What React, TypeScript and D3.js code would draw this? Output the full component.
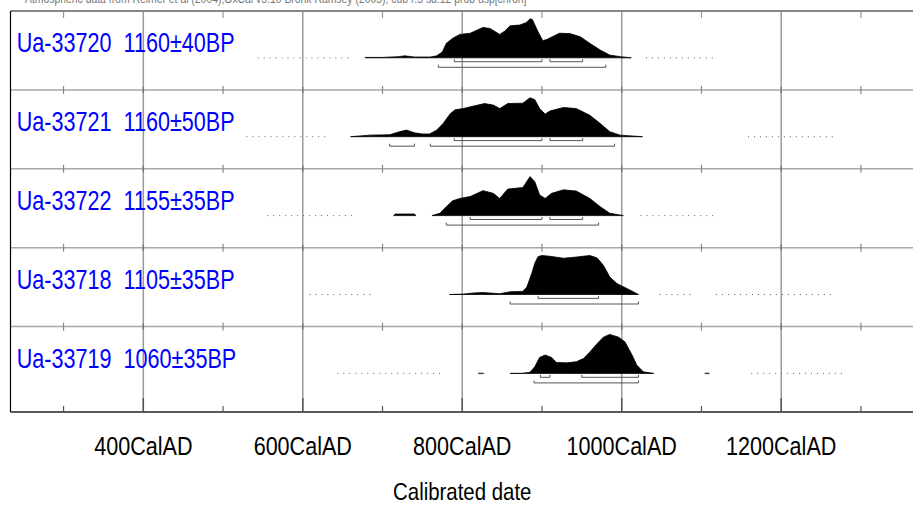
import React from 'react';
import * as d3 from 'd3';

const W = 913;
const H = 505;

const headerText = 'Atmospheric data from Reimer et al (2004);OxCal v3.10 Bronk Ramsey (2005); cub r:5 sd:12 prob usp[chron]';

const sampleLabels = [
  'Ua-33720  1160±40BP',
  'Ua-33721  1160±50BP',
  'Ua-33722  1155±35BP',
  'Ua-33718  1105±35BP',
  'Ua-33719  1060±35BP',
];

const majorTicks = [400, 600, 800, 1000, 1200];
const minorTicks = [300, 500, 700, 900, 1100, 1300];
const xTitle = 'Calibrated date';

// probability distributions (year, relative probability); null = gap
const years1 = [678, 700, 720, 728, 740, 760, 768, 775, 780, 788, 797, 810, 826, 835, 847, 853, 860, 872, 880, 885, 888, 895, 901, 906, 922, 935, 948, 960, 973, 985, 998, 1012];
const dens1 = [0.01, 0.01, 0.03, 0.05, 0.02, 0.02, 0.05, 0.15, 0.37, 0.5, 0.6, 0.63, 0.78, 0.75, 0.6, 0.68, 0.82, 0.84, 0.9, 1.0, 0.98, 0.67, 0.44, 0.47, 0.63, 0.62, 0.54, 0.37, 0.2, 0.07, 0.03, 0.0];

const years2 = [660, 684, 709, 720, 730, 740, 750, 759, 768, 776, 785, 791, 801, 813, 828, 839, 847, 857, 876, 885, 891, 897, 904, 910, 927, 943, 960, 973, 985, 998, 1026];
const dens2 = [0.0, 0.04, 0.05, 0.12, 0.17, 0.1, 0.07, 0.07, 0.17, 0.34, 0.59, 0.69, 0.72, 0.78, 0.85, 0.81, 0.72, 0.85, 0.86, 1.0, 0.95, 0.72, 0.58, 0.66, 0.75, 0.72, 0.55, 0.34, 0.13, 0.04, 0.0];

const years3 = [714, 716, 740, 742, 752, 762, 772, 780, 788, 797, 810, 826, 839, 847, 857, 876, 885, 891, 897, 904, 912, 927, 943, 960, 973, 985, 1002];
const dens3 = [0.0, 0.04, 0.04, 0.0, null, 0.0, 0.06, 0.23, 0.38, 0.44, 0.49, 0.64, 0.57, 0.44, 0.68, 0.72, 1.0, 0.87, 0.53, 0.44, 0.57, 0.66, 0.63, 0.44, 0.23, 0.06, 0.0];

const years4 = [784, 801, 815, 826, 840, 847, 860, 876, 881, 887, 891, 895, 900, 910, 927, 943, 960, 969, 977, 985, 994, 1007, 1021];
const dens4 = [0.0, 0.01, 0.04, 0.05, 0.03, 0.02, 0.07, 0.08, 0.19, 0.53, 0.8, 0.97, 1.0, 0.98, 0.93, 0.96, 1.0, 0.94, 0.75, 0.45, 0.28, 0.15, 0.0];

const years5 = [860, 875, 885, 891, 897, 904, 912, 918, 931, 943, 952, 960, 969, 977, 985, 996, 1004, 1012, 1019, 1027, 1040];
const dens5 = [0.0, 0.0, 0.03, 0.17, 0.41, 0.47, 0.41, 0.28, 0.27, 0.3, 0.38, 0.55, 0.76, 0.93, 1.0, 0.93, 0.81, 0.51, 0.21, 0.04, 0.0];

// 68.2% and 95.4% ranges
const ranges68 = [
  [[790, 900], [910, 951]],
  [[790, 900], [910, 951]],
  [[810, 900], [910, 951]],
  [[895, 971]],
  [[898, 910], [950, 1021]],
];
const ranges95 = [
  [[770, 980]],
  [[709, 740], [760, 991]],
  [[780, 971]],
  [[860, 1021]],
  [[890, 1021]],
];

// dotted ranges and short dashes on each baseline
const dotRanges = [
  [[544, 662], [1031, 1120]],
  [[530, 634], [1159, 1264]],
  [[556, 666], [1024, 1114]],
  [[609, 687], [1048, 1089], [1119, 1265]],
  [[644, 778], [1163, 1277]],
];
const dashRanges = [[], [], [], [], [[820, 827], [1104, 1110]]];

const yearsList = [years1, years2, years3, years4, years5];
const densList = [dens1, dens2, dens3, dens4, dens5];

export default function App() {
  const x = d3.scaleLinear().domain([400, 1200]).range([143.3, 781.2]);
  const left = 10.5;
  const right = 920;
  const top = 11;
  const bottom = 412;
  const rowStep = 78.9;
  const rowTop = (i: number) => top + i * rowStep;
  const baseOff = 46.8;
  const peakH = 39;
  const gridC = '#9a9a9a';

  return (
    <svg width={W} height={H} style={{ position: 'absolute', left: 0, top: 0, background: '#fff' }}
      fontFamily="'Liberation Sans', Arial, sans-serif">
      <rect x={0} y={0} width={W} height={H} fill="#fff" />
      {/* header (cut off at the top edge, as in the source) */}
      <text x={25} y={2.5} fontSize={13} fill="#777" transform="translate(25,0) scale(0.8,1) translate(-25,0)">{headerText}</text>

      {/* vertical gridlines */}
      {majorTicks.map((t) => (
        <line key={'g' + t} x1={x(t)} x2={x(t)} y1={top} y2={bottom} stroke={gridC} strokeWidth={1.5} />
      ))}
      {/* row separators */}
      {[1, 2, 3, 4].map((i) => (
        <line key={'s' + i} x1={left} x2={right} y1={rowTop(i)} y2={rowTop(i)} stroke="#a8a8a8" strokeWidth={1.5} />
      ))}
      {/* ticks at separators */}
      {[1, 2, 3, 4].map((i) => (
        <g key={'ts' + i}>
          {minorTicks.map((t) => (
            <line key={t} x1={x(t)} x2={x(t)} y1={rowTop(i) - 4} y2={rowTop(i) + 4} stroke="#888" strokeWidth={1.2} />
          ))}
          {majorTicks.map((t) => (
            <line key={t} x1={x(t)} x2={x(t)} y1={rowTop(i) - 3} y2={rowTop(i) + 3} stroke="#777" strokeWidth={1.5} />
          ))}
        </g>
      ))}
      {/* top ticks */}
      {minorTicks.map((t) => (
        <line key={'tt' + t} x1={x(t)} x2={x(t)} y1={top} y2={top + 7} stroke="#999" strokeWidth={1.2} />
      ))}
      {/* top border */}
      <line x1={left} x2={right} y1={top} y2={top} stroke="#888" strokeWidth={2} />
      {/* left border */}
      <line x1={left} x2={left} y1={top} y2={bottom} stroke="#000" strokeWidth={1.2} />

      {/* rows */}
      {sampleLabels.map((lab, i) => {
        const base = rowTop(i) + baseOff;
        const y = d3.scaleLinear().domain([0, 1]).range([base, base - peakH]);
        const pts = yearsList[i].map((yr, k) => ({ yr, v: densList[i][k] }));
        const area = d3.area<{ yr: number; v: number | null }>()
          .defined((d) => d.v != null)
          .x((d) => x(d.yr))
          .y0(base)
          .y1((d) => y(d.v as number));
        const dots: number[] = [];
        dotRanges[i].forEach(([a, b]) => {
          d3.range(a, b + 0.01, 7.5).forEach((v) => dots.push(v));
        });
        const bracket = (r: number[], yy: number, key: string) => {
          const x0 = x(r[0]);
          const x1 = x(r[1]);
          return (
            <path key={key} d={`M${x0},${yy - 2.5}L${x0},${yy}L${x1},${yy}L${x1},${yy - 2.5}`}
              fill="none" stroke="#555" strokeWidth={1} />
          );
        };
        return (
          <g key={lab}>
            <text x={16.7} y={rowTop(i) + 41} fontSize={27} fill="#0000ff" style={{ whiteSpace: 'pre' }}
              transform={`translate(16.7,0) scale(0.8,1) translate(-16.7,0)`}>{lab}</text>
            {dots.map((v, k) => (
              <rect key={'d' + k} x={x(v) - 0.5} y={base - 0.5} width={1} height={1} fill="#666" />
            ))}
            {dashRanges[i].map(([a, b], k) => (
              <line key={'da' + k} x1={x(a)} x2={x(b)} y1={base} y2={base} stroke="#444" strokeWidth={1.5} />
            ))}
            <path d={area(pts as any) || ''} fill="#000" stroke="#000" strokeWidth={0.8} />
            {ranges68[i].map((r, k) => bracket(r, base + 3.9, 'a' + k))}
            {ranges95[i].map((r, k) => bracket(r, base + 9.5, 'b' + k))}
          </g>
        );
      })}

      {/* bottom axis */}
      <line x1={left} x2={right} y1={bottom} y2={bottom} stroke="#222" strokeWidth={1.5} />
      {majorTicks.map((t) => (
        <line key={'bm' + t} x1={x(t)} x2={x(t)} y1={bottom - 14} y2={bottom} stroke="#555" strokeWidth={1.5} />
      ))}
      {minorTicks.map((t) => (
        <line key={'bn' + t} x1={x(t)} x2={x(t)} y1={bottom - 6} y2={bottom} stroke="#555" strokeWidth={1.2} />
      ))}
      {majorTicks.map((t) => (
        <text key={'l' + t} x={0} y={0} fontSize={26} textAnchor="middle" fill="#000"
          transform={`translate(${x(t)},455) scale(0.83,1)`}>{`${t}CalAD`}</text>
      ))}
      <text x={0} y={0} fontSize={24} textAnchor="middle" fill="#000"
        transform={`translate(${x(800)},499.5) scale(0.85,1)`}>{xTitle}</text>
    </svg>
  );
}
